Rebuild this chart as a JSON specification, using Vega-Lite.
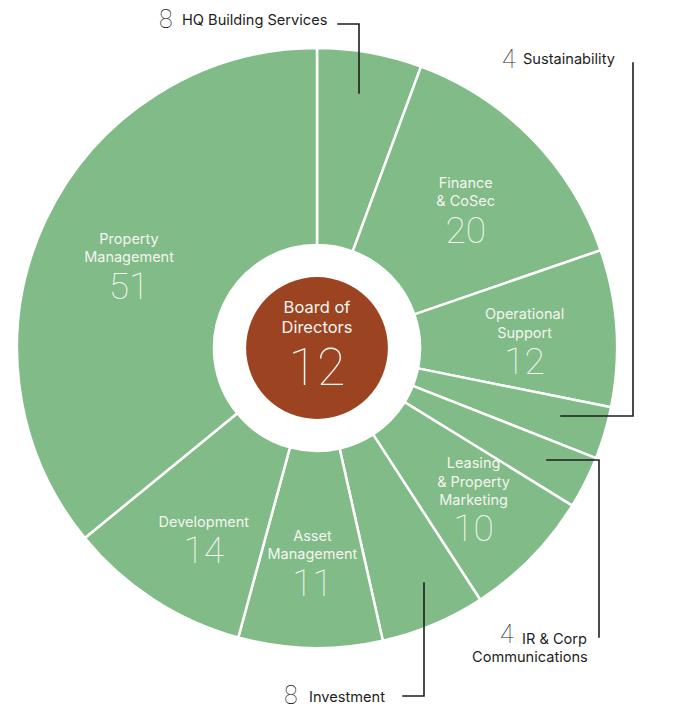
{
  "$schema": "https://vega.github.io/schema/vega-lite/v6.json",
  "width": 634,
  "height": 696,
  "autosize": {"type": "none"},
  "padding": {"left": 0, "top": 0, "right": 44, "bottom": 14},
  "background": "#ffffff",
  "config": {"view": {"stroke": null}},
  "datasets": {
    "teams": [
      {"order": 1, "name": ["HQ Building Services"], "value": 8, "inside": false},
      {"order": 2, "name": ["Finance", "& CoSec"], "value": 20, "inside": true},
      {"order": 3, "name": ["Operational", "Support"], "value": 12, "inside": true},
      {"order": 4, "name": ["Sustainability"], "value": 4, "inside": false},
      {"order": 5, "name": ["IR & Corp", "Communications"], "value": 4, "inside": false},
      {"order": 6, "name": ["Leasing", "& Property", "Marketing"], "value": 10, "inside": true},
      {"order": 7, "name": ["Investment"], "value": 8, "inside": false},
      {"order": 8, "name": ["Asset", "Management"], "value": 11, "inside": true},
      {"order": 9, "name": ["Development"], "value": 14, "inside": true},
      {"order": 10, "name": ["Property", "Management"], "value": 51, "inside": true}
    ],
    "board": [{"name": ["Board of", "Directors"], "value": 12}],
    "callout_text": [
      {"team": "HQ Building Services", "kind": "num", "text": "8", "x": -158, "y": 328},
      {"team": "HQ Building Services", "kind": "name", "text": "HQ Building Services", "x": -135, "y": 327},
      {"team": "Sustainability", "kind": "num", "text": "4", "x": 185, "y": 288},
      {"team": "Sustainability", "kind": "name", "text": "Sustainability", "x": 206, "y": 288},
      {"team": "IR & Corp Communications", "kind": "num", "text": "4", "x": 183, "y": -287},
      {"team": "IR & Corp Communications", "kind": "name", "text": "IR & Corp", "x": 205, "y": -292},
      {"team": "IR & Corp Communications", "kind": "name", "text": "Communications", "x": 155, "y": -310},
      {"team": "Investment", "kind": "num", "text": "8", "x": -33, "y": -348},
      {"team": "Investment", "kind": "name", "text": "Investment", "x": -8, "y": -350}
    ],
    "leaders": [
      {"team": "HQ Building Services", "step": 1, "x": 21, "y": 324},
      {"team": "HQ Building Services", "step": 2, "x": 42, "y": 324},
      {"team": "HQ Building Services", "step": 3, "x": 42, "y": 255},
      {"team": "Sustainability", "step": 1, "x": 316, "y": 285},
      {"team": "Sustainability", "step": 2, "x": 316, "y": -68},
      {"team": "Sustainability", "step": 3, "x": 244, "y": -68},
      {"team": "IR & Corp Communications", "step": 1, "x": 230, "y": -112},
      {"team": "IR & Corp Communications", "step": 2, "x": 282, "y": -112},
      {"team": "IR & Corp Communications", "step": 3, "x": 282, "y": -289},
      {"team": "Investment", "step": 1, "x": 107, "y": -235},
      {"team": "Investment", "step": 2, "x": 107, "y": -348},
      {"team": "Investment", "step": 3, "x": 86, "y": -348}
    ]
  },
  "layer": [
    {
      "data": {"name": "teams"},
      "mark": {"type": "arc", "outerRadius": 300, "innerRadius": 103, "fill": "#80bb88", "stroke": "#ffffff", "strokeWidth": 2.5},
      "encoding": {
        "theta": {"field": "value", "type": "quantitative", "stack": true},
        "order": {"field": "order", "type": "quantitative"}
      }
    },
    {
      "data": {"name": "teams"},
      "mark": {"type": "text", "radius": 208, "baseline": "middle", "dy": 0, "lineHeight": 18.5, "font": "Inter", "fontSize": 14.5, "fontWeight": 400, "color": "#f5f5ef"},
      "encoding": {
        "theta": {"field": "value", "type": "quantitative", "stack": true},
        "order": {"field": "order", "type": "quantitative"},
        "text": {"field": "name"},
        "opacity": {"condition": {"test": "datum.inside && length(datum.name) === 1", "value": 1}, "value": 0}
      }
    },
    {
      "data": {"name": "teams"},
      "mark": {"type": "text", "radius": 208, "baseline": "middle", "dy": -19, "lineHeight": 18.5, "font": "Inter", "fontSize": 14.5, "fontWeight": 400, "color": "#f5f5ef"},
      "encoding": {
        "theta": {"field": "value", "type": "quantitative", "stack": true},
        "order": {"field": "order", "type": "quantitative"},
        "text": {"field": "name"},
        "opacity": {"condition": {"test": "datum.inside && length(datum.name) === 2", "value": 1}, "value": 0}
      }
    },
    {
      "data": {"name": "teams"},
      "mark": {"type": "text", "radius": 219, "baseline": "middle", "dy": -37, "lineHeight": 18.5, "font": "Inter", "fontSize": 14.5, "fontWeight": 400, "color": "#f5f5ef"},
      "encoding": {
        "theta": {"field": "value", "type": "quantitative", "stack": true},
        "order": {"field": "order", "type": "quantitative"},
        "text": {"field": "name"},
        "opacity": {"condition": {"test": "datum.inside && length(datum.name) === 3", "value": 1}, "value": 0}
      }
    },
    {
      "data": {"name": "teams"},
      "mark": {"type": "text", "radius": 208, "baseline": "top", "dy": 11, "font": "Roboto", "fontSize": 37, "fontWeight": 100, "color": "#f7f7f2"},
      "encoding": {
        "theta": {"field": "value", "type": "quantitative", "stack": true},
        "order": {"field": "order", "type": "quantitative"},
        "text": {"field": "value"},
        "opacity": {"condition": {"test": "datum.inside && length(datum.name) < 3", "value": 1}, "value": 0}
      }
    },
    {
      "data": {"name": "teams"},
      "mark": {"type": "text", "radius": 219, "baseline": "top", "dy": 11, "font": "Roboto", "fontSize": 37, "fontWeight": 100, "color": "#f7f7f2"},
      "encoding": {
        "theta": {"field": "value", "type": "quantitative", "stack": true},
        "order": {"field": "order", "type": "quantitative"},
        "text": {"field": "value"},
        "opacity": {"condition": {"test": "datum.inside && length(datum.name) === 3", "value": 1}, "value": 0}
      }
    },
    {
      "data": {"name": "board"},
      "mark": {"type": "circle", "size": 20106, "color": "#9c4421", "opacity": 1},
      "encoding": {}
    },
    {
      "data": {"name": "board"},
      "mark": {"type": "text", "baseline": "middle", "dy": -40, "lineHeight": 20, "font": "Inter", "fontSize": 16.5, "fontWeight": 400, "color": "#f5f5ef"},
      "encoding": {"text": {"field": "name"}}
    },
    {
      "data": {"name": "board"},
      "mark": {"type": "text", "baseline": "top", "dy": -4, "font": "Roboto", "fontSize": 52, "fontWeight": 100, "color": "#f7f7f2"},
      "encoding": {"text": {"field": "value"}}
    },
    {
      "data": {"name": "leaders"},
      "mark": {"type": "line", "color": "#1e1e1e", "strokeWidth": 1.6, "strokeCap": "square"},
      "encoding": {
        "x": {"field": "x", "type": "quantitative", "scale": {"domain": [-317, 317], "nice": false, "zero": false}, "axis": null},
        "y": {"field": "y", "type": "quantitative", "scale": {"domain": [-348, 348], "nice": false, "zero": false}, "axis": null},
        "detail": {"field": "team"},
        "order": {"field": "step", "type": "quantitative"}
      }
    },
    {
      "data": {"name": "callout_text"},
      "transform": [{"filter": "datum.kind === 'num'"}],
      "mark": {"type": "text", "align": "left", "baseline": "middle", "font": "Roboto", "fontSize": 25, "fontWeight": 100, "color": "#1e1e1e"},
      "encoding": {
        "x": {"field": "x", "type": "quantitative", "scale": {"domain": [-317, 317], "nice": false, "zero": false}, "axis": null},
        "y": {"field": "y", "type": "quantitative", "scale": {"domain": [-348, 348], "nice": false, "zero": false}, "axis": null},
        "text": {"field": "text"}
      }
    },
    {
      "data": {"name": "callout_text"},
      "transform": [{"filter": "datum.kind === 'name'"}],
      "mark": {"type": "text", "align": "left", "baseline": "middle", "font": "Inter", "fontSize": 14.6, "color": "#1e1e1e"},
      "encoding": {
        "x": {"field": "x", "type": "quantitative", "scale": {"domain": [-317, 317], "nice": false, "zero": false}, "axis": null},
        "y": {"field": "y", "type": "quantitative", "scale": {"domain": [-348, 348], "nice": false, "zero": false}, "axis": null},
        "text": {"field": "text"}
      }
    }
  ]
}
